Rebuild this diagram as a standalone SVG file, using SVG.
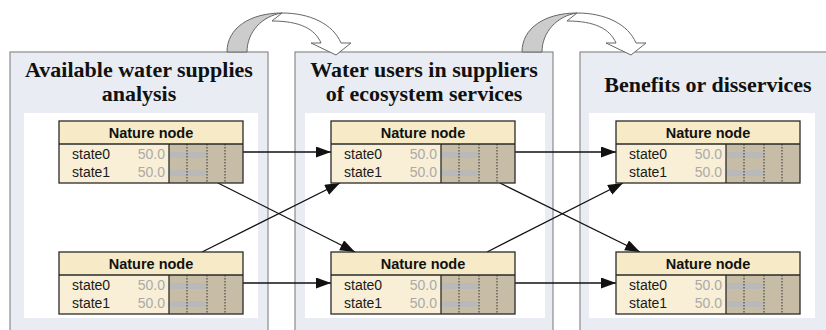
<svg xmlns="http://www.w3.org/2000/svg" width="826" height="330" viewBox="0 0 826 330">
<defs>
<style>
.panel{fill:#e9edf3;stroke:#8a8a8a;stroke-width:1.2}
.inner{fill:#ffffff}
.ptitle{font-family:"Liberation Serif","Times New Roman",serif;font-weight:bold;font-size:22px;fill:#111;text-anchor:middle}
.frame{fill:none;stroke:#2a2a2a;stroke-width:1.3}
.hdr{fill:#f6ebc6}
.bodyl{fill:#f8efd6}
.bodyr{fill:#c7bda6}
.bar{fill:#b9b9b9}
.dot{stroke:#333;stroke-width:1;stroke-dasharray:1.5 1.5}
.sep{stroke:#2a2a2a;stroke-width:1.3}
.ntitle{font-family:"Liberation Sans",Arial,sans-serif;font-weight:bold;font-size:14.5px;fill:#111;text-anchor:middle}
.st{font-family:"Liberation Sans",Arial,sans-serif;font-size:14px;fill:#1a1a1a}
.val{font-family:"Liberation Sans",Arial,sans-serif;font-size:14px;fill:#aaaaaa;text-anchor:end}
.conn{stroke:#111;stroke-width:1.3;fill:none}
.band{stroke:#666;stroke-width:1}
</style>
<marker id="ah" markerUnits="userSpaceOnUse" markerWidth="16" markerHeight="12" refX="15" refY="5.5" orient="auto">
<path d="M0,0 L15,5.5 L0,11 z" fill="#111"/>
</marker>
<g id="nodebody">
<rect class="hdr" x="0" y="0" width="184" height="23"/>
<rect class="bodyl" x="0" y="23" width="110" height="39"/>
<rect class="bodyr" x="110" y="23" width="74" height="39"/>
<rect class="bar" x="110" y="31" width="37" height="6"/>
<rect class="bar" x="110" y="49" width="37" height="6"/>
<line class="dot" x1="128" y1="23" x2="128" y2="62"/>
<line class="dot" x1="148" y1="23" x2="148" y2="62"/>
<line class="dot" x1="166" y1="23" x2="166" y2="62"/>
<line class="sep" x1="0" y1="23" x2="184" y2="23"/>
<line class="sep" x1="110" y1="23" x2="110" y2="62"/>
<rect class="frame" x="0" y="0" width="184" height="62"/>
</g>
<g id="curved">
<path class="band" fill="#ffffff" d="M282 13 C310 13 333 24 341 43 L351 43 L336 55 L311 43 L321 43 C315 29 300 21 272 21 Z"/>
<path class="band" fill="#cccccc" d="M227 52 C227 28 250 13 282 13 C262 16 247 32 247 52 Z"/>
</g>
</defs>

<g id="panels">
<g id="panel1">
<rect class="panel" x="10" y="52" width="258" height="290"/>
<rect class="inner" x="24" y="113" width="234" height="205"/>
<text class="ptitle" x="139" y="77">Available water supplies</text>
<text class="ptitle" x="139" y="101">analysis</text>
</g>
<g id="panel2">
<rect class="panel" x="295" y="52" width="258" height="290"/>
<rect class="inner" x="305" y="113" width="240" height="205"/>
<text class="ptitle" x="424" y="77">Water users in suppliers</text>
<text class="ptitle" x="424" y="101">of ecosystem services</text>
</g>
<g id="panel3">
<rect class="panel" x="580" y="52" width="260" height="290"/>
<rect class="inner" x="589" y="113" width="226" height="205"/>
<text class="ptitle" x="708" y="92">Benefits or disservices</text>
</g>
</g>

<g id="flow-arrows">
<use href="#curved"/>
<use href="#curved" transform="translate(295,0)"/>
</g>

<g id="connectors">
<line class="conn" x1="243" y1="152" x2="331" y2="152" marker-end="url(#ah)"/>
<line class="conn" x1="243" y1="283" x2="331" y2="283" marker-end="url(#ah)"/>
<line class="conn" x1="218" y1="183" x2="355" y2="252" marker-end="url(#ah)"/>
<line class="conn" x1="202" y1="252" x2="340" y2="183" marker-end="url(#ah)"/>
<line class="conn" x1="515" y1="152" x2="616" y2="152" marker-end="url(#ah)"/>
<line class="conn" x1="515" y1="283" x2="616" y2="283" marker-end="url(#ah)"/>
<line class="conn" x1="500" y1="183" x2="640" y2="252" marker-end="url(#ah)"/>
<line class="conn" x1="487" y1="252" x2="623" y2="183" marker-end="url(#ah)"/>
</g>

<g id="node1" transform="translate(59,121)">
<use href="#nodebody"/>
<text class="ntitle" x="92" y="16.5">Nature node</text>
<text class="st" x="13" y="37.5">state0</text><text class="val" x="106" y="37.5">50.0</text>
<text class="st" x="13" y="55.5">state1</text><text class="val" x="106" y="55.5">50.0</text>
</g>
<g id="node2" transform="translate(59,252)">
<use href="#nodebody"/>
<text class="ntitle" x="92" y="16.5">Nature node</text>
<text class="st" x="13" y="37.5">state0</text><text class="val" x="106" y="37.5">50.0</text>
<text class="st" x="13" y="55.5">state1</text><text class="val" x="106" y="55.5">50.0</text>
</g>
<g id="node3" transform="translate(331,121)">
<use href="#nodebody"/>
<text class="ntitle" x="92" y="16.5">Nature node</text>
<text class="st" x="13" y="37.5">state0</text><text class="val" x="106" y="37.5">50.0</text>
<text class="st" x="13" y="55.5">state1</text><text class="val" x="106" y="55.5">50.0</text>
</g>
<g id="node4" transform="translate(331,252)">
<use href="#nodebody"/>
<text class="ntitle" x="92" y="16.5">Nature node</text>
<text class="st" x="13" y="37.5">state0</text><text class="val" x="106" y="37.5">50.0</text>
<text class="st" x="13" y="55.5">state1</text><text class="val" x="106" y="55.5">50.0</text>
</g>
<g id="node5" transform="translate(616,121)">
<use href="#nodebody"/>
<text class="ntitle" x="92" y="16.5">Nature node</text>
<text class="st" x="13" y="37.5">state0</text><text class="val" x="106" y="37.5">50.0</text>
<text class="st" x="13" y="55.5">state1</text><text class="val" x="106" y="55.5">50.0</text>
</g>
<g id="node6" transform="translate(616,252)">
<use href="#nodebody"/>
<text class="ntitle" x="92" y="16.5">Nature node</text>
<text class="st" x="13" y="37.5">state0</text><text class="val" x="106" y="37.5">50.0</text>
<text class="st" x="13" y="55.5">state1</text><text class="val" x="106" y="55.5">50.0</text>
</g>
</svg>
